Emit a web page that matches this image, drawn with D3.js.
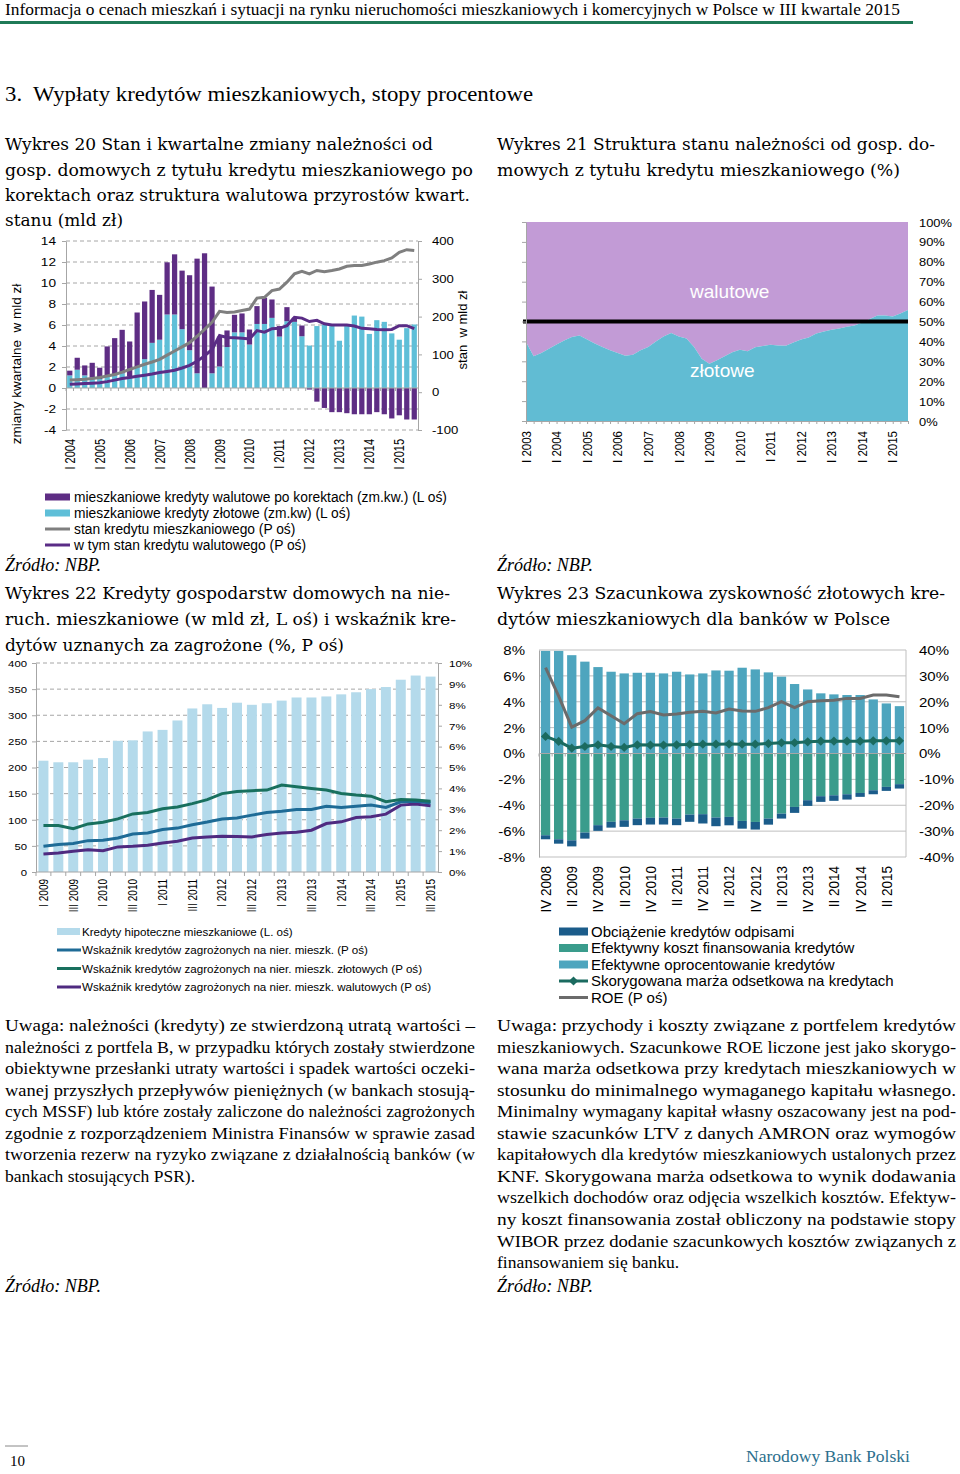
<!DOCTYPE html>
<html><head><meta charset="utf-8">
<script src="https://cdn.jsdelivr.net/npm/d3@7"></script>
<style>body{margin:0;background:#fff}svg{display:block}</style>
</head><body><svg id="c" width="960" height="1474"></svg>
<script>
// ---------------- DATA ----------------
// Wykres 20
const cat20 = ["I 2004","II 2004","III 2004","IV 2004","I 2005","II 2005","III 2005","IV 2005",
"I 2006","II 2006","III 2006","IV 2006","I 2007","II 2007","III 2007","IV 2007",
"I 2008","II 2008","III 2008","IV 2008","I 2009","II 2009","III 2009","IV 2009",
"I 2010","II 2010","III 2010","IV 2010","I 2011","II 2011","III 2011","IV 2011",
"I 2012","II 2012","III 2012","IV 2012","I 2013","II 2013","III 2013","IV 2013",
"I 2014","II 2014","III 2014","IV 2014","I 2015","II 2015","III 2015"];
const xTicks20 = ["I 2004","I 2005","I 2006","I 2007","I 2008","I 2009","I 2010","I 2011","I 2012","I 2013","I 2014","I 2015"];
const ticksL20 = [14,12,10,8,6,4,2,0,-2,-4];
const ticksR20 = [400,300,200,100,0,-100];
const zlote20 = [1.2,1.74,1.2,1.0, 0.85,1.1,1.2,1.4, 1.1,2.0,2.75,4.3, 4.6,7.0,7.0,5.6, 3.6,1.4,0.0,1.4,
 2.05,3.9,5.3,5.3, 4.14,6.1,6.1,6.68, 4.9,6.36,6.3,4.93, 4.04,5.9,6.05,5.9, 4.5,5.9,6.9,6.8, 5.15,6.46,6.3,5.2, 4.6,5.7,6.05];
const walutowe20 = [0.45,1.14,0.95,1.4, 1.08,2.86,3.55,4.14, 3.33,5.19,5.49,5.04, 4.27,4.97,5.73,5.58, 7.14,10.92,12.83,8.26,
 2.85,1.58,1.67,1.8, 1.43,1.7,2.5,1.75, 1.0,1.34,0.4,1.02, -0.15,-1.3,-1.9,-2.3, -2.3,-2.4,-2.5,-2.5, -2.5,-2.3,-2.5,-2.9, -2.6,-3.0,-3.0];
const stan20 = [32,33,34,36, 39,43,47,53, 60,67,74,80, 87,98,109,120, 131,148,166,185,
 214,211,212,216, 220,249,251,269, 273,291,313,320, 313,322,319,322, 326,333,335,335, 339,344,348,355, 370,377,375];
const stanWal20 = [21,22,23,24, 25,28,32,36, 39,42,45,48, 52,55,58,64, 71,82,96,113,
 150,145,144,143, 141,163,159,168, 169,176,198,196, 187,190,181,178, 178,178,175,169, 168,166,165,166, 176,176,168];

// Wykres 21
const cat21 = ["I 2003","II 2003","III 2003","IV 2003","I 2004","II 2004","III 2004","IV 2004",
"I 2005","II 2005","III 2005","IV 2005","I 2006","II 2006","III 2006","IV 2006",
"I 2007","II 2007","III 2007","IV 2007","I 2008","II 2008","III 2008","IV 2008",
"I 2009","II 2009","III 2009","IV 2009","I 2010","II 2010","III 2010","IV 2010",
"I 2011","II 2011","III 2011","IV 2011","I 2012","II 2012","III 2012","IV 2012",
"I 2013","II 2013","III 2013","IV 2013","I 2014","II 2014","III 2014","IV 2014",
"I 2015","II 2015","III 2015"];
const xTicks21 = ["I 2003","I 2004","I 2005","I 2006","I 2007","I 2008","I 2009","I 2010","I 2011","I 2012","I 2013","I 2014","I 2015"];
const ticks21 = [0,10,20,30,40,50,60,70,80,90,100];
const zlShare21 = [39.7,32.5,34.2,36.3,38.4,40.5,42.2,43.0,40.9,38.9,37.2,35.5,34.2,32.8,33.3,35.5,37.2,40.0,42.5,44.2,
 42.5,41.4,37.2,31.3,28.8,30.5,32.5,34.5,35.8,35.0,37.0,37.7,38.3,38.0,37.8,39.5,41.0,42.0,44.0,45.0,
 45.8,46.5,47.3,48.0,49.5,51.2,53.0,53.0,52.5,54.0,55.8];

// Wykres 22
const cat22 = ["I 2009","II 2009","III 2009","IV 2009","I 2010","II 2010","III 2010","IV 2010",
"I 2011","II 2011","III 2011","IV 2011","I 2012","II 2012","III 2012","IV 2012",
"I 2013","II 2013","III 2013","IV 2013","I 2014","II 2014","III 2014","IV 2014",
"I 2015","II 2015","III 2015"];
const xTicks22 = ["I 2009","III 2009","I 2010","III 2010","I 2011","III 2011","I 2012","III 2012","I 2013","III 2013","I 2014","III 2014","I 2015","III 2015"];
const ticksL22 = [0,50,100,150,200,250,300,350,400];
const ticksR22 = [0,1,2,3,4,5,6,7,8,9,10];
const kredyty22 = [213,210,210,215,218,251,252,269,272,290,313,321,314,324,320,323,328,334,334,336,340,344,350,354,368,376,374];
const wskOgol22 = [1.23,1.32,1.36,1.5,1.52,1.63,1.82,1.87,2.03,2.1,2.26,2.39,2.54,2.58,2.72,2.85,2.91,2.99,2.99,3.15,3.09,3.15,3.2,3.09,3.36,3.39,3.3];
const wskZl22 = [2.22,2.22,2.07,2.3,2.38,2.54,2.78,2.85,3.03,3.11,3.27,3.46,3.75,3.85,3.89,3.92,4.16,4.08,4.0,3.92,3.76,3.68,3.63,3.36,3.47,3.44,3.38];
const wskWal22 = [0.86,0.91,0.99,1.07,1.02,1.2,1.23,1.28,1.39,1.47,1.63,1.67,1.71,1.7,1.68,1.79,1.87,1.9,2.0,2.32,2.4,2.61,2.64,2.77,3.2,3.25,3.17];

// Wykres 23
const cat23 = ["IV 2008","I 2009","II 2009","III 2009","IV 2009","I 2010","II 2010","III 2010","IV 2010",
"I 2011","II 2011","III 2011","IV 2011","I 2012","II 2012","III 2012","IV 2012",
"I 2013","II 2013","III 2013","IV 2013","I 2014","II 2014","III 2014","IV 2014",
"I 2015","II 2015","III 2015"];
const xTicks23 = ["IV 2008","II 2009","IV 2009","II 2010","IV 2010","II 2011","IV 2011","II 2012","IV 2012","II 2013","IV 2013","II 2014","IV 2014","II 2015"];
const ticksL23 = [8,6,4,2,0,-2,-4,-6,-8];
const ticksR23 = [40,30,20,10,0,-10,-20,-30,-40];
const oprocent23 = [7.93,7.93,7.6,7.1,6.68,6.32,6.19,6.24,6.24,6.19,6.32,6.11,6.19,6.42,6.4,6.63,6.5,6.27,5.94,5.37,4.95,4.65,4.57,4.52,4.52,4.18,3.87,3.66];
const koszt23 = [-6.32,-6.63,-6.71,-6.11,-5.54,-5.28,-5.16,-5.03,-4.97,-4.95,-5.03,-4.72,-4.69,-4.95,-4.9,-5.21,-5.29,-5.03,-4.65,-4.13,-3.61,-3.3,-3.23,-3.15,-3.05,-2.84,-2.58,-2.37];
const odpisy23 = [-0.31,-0.34,-0.47,-0.47,-0.44,-0.45,-0.51,-0.51,-0.52,-0.54,-0.51,-0.56,-0.72,-0.67,-0.65,-0.6,-0.59,-0.47,-0.38,-0.46,-0.44,-0.44,-0.43,-0.41,-0.3,-0.31,-0.31,-0.34];
const marza23 = [1.32,0.93,0.41,0.54,0.67,0.54,0.47,0.67,0.65,0.65,0.67,0.7,0.72,0.72,0.73,0.72,0.72,0.77,0.83,0.83,0.9,0.95,0.95,0.95,0.95,0.98,0.98,0.98];
const roe23 = [33.2,22.2,10.2,12.7,17.6,14.6,11.5,15.4,16.2,14.9,15.3,15.9,16.3,15.7,17.2,16.4,16.3,17.7,20.0,17.7,20.0,20.4,20.6,21.3,21.3,22.6,22.6,21.9];

// ---------------- HELPERS ----------------
const SANS = "'Liberation Sans', Arial, sans-serif";
const SERIF = "'Liberation Serif', 'Times New Roman', serif";
const TSERIF = "'DejaVu Serif', serif";
const GRID = '#a6a6a6';
const svg = d3.select('#c');
svg.append('rect').attr('width',960).attr('height',1474).attr('fill','#fff');

function T(p, x, y, str, o = {}) {
  const t = p.append('text').text(str)
    .attr('font-family', o.ff || SANS).attr('font-size', o.fs || 12)
    .attr('fill', o.fill || '#000');
  if (o.anchor) t.attr('text-anchor', o.anchor);
  if (o.weight) t.attr('font-weight', o.weight);
  if (o.style) t.attr('font-style', o.style);
  let tr = `translate(${x},${y})`;
  if (o.sx) tr += ` scale(${o.sx},1)`;
  if (o.rot) tr += ` rotate(${o.rot})`;
  t.attr('transform', tr);
  if (o.dy) t.attr('dy', o.dy);
  if (o.len) t.attr('textLength', o.len).attr('lengthAdjust', 'spacingAndGlyphs');
  return t;
}
function styleAxis(sel, o) {
  sel.attr('font-family', SANS).attr('font-size', o.fs);
  if (o.noDomain) sel.select('.domain').remove();
  else sel.select('.domain').attr('stroke', GRID);
  sel.selectAll('.tick line').attr('stroke', GRID);
  sel.selectAll('.tick text').attr('fill', '#000').attr('x', null).attr('y', null)
    .attr('dy', '0.35em').attr('text-anchor', o.anchor).attr('transform', o.tf);
}
function hline(p, x1, x2, y, stroke, dash, w) {
  const l = p.append('line').attr('x1', x1).attr('x2', x2).attr('y1', y).attr('y2', y)
    .attr('stroke', stroke).attr('stroke-width', w || 1);
  if (dash) l.attr('stroke-dasharray', dash);
  return l;
}
function vline(p, x, y1, y2, stroke) {
  return p.append('line').attr('x1', x).attr('x2', x).attr('y1', y1).attr('y2', y2).attr('stroke', stroke);
}

// ---------------- PAGE TEXT ----------------
T(svg, 5, 15, "Informacja o cenach mieszkań i sytuacji na rynku nieruchomości mieszkaniowych i komercyjnych w Polsce w III kwartale 2015", {ff: SERIF, fs: 16, len: 895});
svg.append('rect').attr('x', 0).attr('y', 21).attr('width', 913).attr('height', 3).attr('fill', '#1f7a57');
T(svg, 5, 101, "3.\u00a0 Wypłaty kredytów mieszkaniowych, stopy procentowe", {ff: SERIF, fs: 21, len: 528});

const titles = [
  [5, 144, "Wykres 20 Stan i kwartalne zmiany należności od", 428],
  [5, 170, "gosp. domowych z tytułu kredytu mieszkaniowego po", 468],
  [5, 195, "korektach oraz struktura walutowa przyrostów kwart.", 465],
  [5, 220, "stanu (mld zł)", 118],
  [497, 144, "Wykres 21 Struktura stanu należności od gosp. do-", 438],
  [497, 170, "mowych z tytułu kredytu mieszkaniowego (%)", 403],
  [5, 593, "Wykres 22 Kredyty gospodarstw domowych na nie-", 445],
  [5, 619, "ruch. mieszkaniowe (w mld zł, L oś) i wskaźnik kre-", 451],
  [5, 645, "dytów uznanych za zagrożone (%, P oś)", 339],
  [497, 593, "Wykres 23 Szacunkowa zyskowność złotowych kre-", 448],
  [497, 619, "dytów mieszkaniowych dla banków w Polsce", 393]
];
titles.forEach(r => T(svg, r[0], r[1] + 6, r[2], {ff: TSERIF, fs: 17.2, len: r[3]}));

[[5, 565], [497, 565], [5, 1286], [497, 1286]].forEach(p =>
  T(svg, p[0], p[1] + 6, "Źródło: NBP.", {ff: SERIF, fs: 18, style: 'italic', len: 96}));

const paraL = [
  ["Uwaga: należności (kredyty) ze stwierdzoną utratą wartości –", true],
  ["należności z portfela B, w przypadku których zostały stwierdzone", true],
  ["obiektywne przesłanki utraty wartości i spadek wartości oczeki-", true],
  ["wanej przyszłych przepływów pieniężnych (w bankach stosują-", true],
  ["cych MSSF) lub które zostały zaliczone do należności zagrożonych", true],
  ["zgodnie z rozporządzeniem Ministra Finansów w sprawie zasad", true],
  ["tworzenia rezerw na ryzyko związane z działalnością banków (w", true],
  ["bankach stosujących PSR).", false]
];
const paraR = [
  ["Uwaga: przychody i koszty związane z portfelem kredytów", true],
  ["mieszkaniowych. Szacunkowe ROE liczone jest jako skorygo-", true],
  ["wana marża odsetkowa przy kredytach mieszkaniowych w", true],
  ["stosunku do minimalnego wymaganego kapitału własnego.", true],
  ["Minimalny wymagany kapitał własny oszacowany jest na pod-", true],
  ["stawie szacunków LTV z danych AMRON oraz wymogów", true],
  ["kapitałowych dla kredytów mieszkaniowych ustalonych przez", true],
  ["KNF. Skorygowana marża odsetkowa to wynik dodawania", true],
  ["wszelkich dochodów oraz odjęcia wszelkich kosztów. Efektyw-", true],
  ["ny koszt finansowania został obliczony na podstawie stopy", true],
  ["WIBOR przez dodanie szacunkowych kosztów związanych z", true],
  ["finansowaniem się banku.", false]
];
paraL.forEach((r, i) => T(svg, 5, 1031 + i * 21.55, r[0], {ff: SERIF, fs: 17.5, len: r[1] ? 470 : null}));
paraR.forEach((r, i) => T(svg, 497, 1031 + i * 21.55, r[0], {ff: SERIF, fs: 17.5, len: r[1] ? 459 : null}));

hline(svg, 5, 28, 1446, '#888');
T(svg, 10, 1466, "10", {ff: SERIF, fs: 15});
T(svg, 746, 1462, "Narodowy Bank Polski", {ff: SERIF, fs: 17, fill: '#2c6f8d', len: 164});

// ---------------- WYKRES 20 ----------------
(function () {
  const g = svg.append('g');
  const PUR = '#5e2d84', BLU = '#5fbfd8';
  const x = d3.scaleBand().domain(cat20).range([66, 418]).paddingInner(0.3).paddingOuter(0.15);
  const yL = d3.scaleLinear().domain([-4, 14]).range([430, 241]);
  const yR = d3.scaleLinear().domain([-100, 400]).range([430, 241]);
  ticksL20.forEach(v => { if (v !== 0) hline(g, 66, 418, yL(v), GRID, '4,3'); });
  g.selectAll(null).data(zlote20).join('rect')
    .attr('x', (d, i) => x(cat20[i])).attr('width', x.bandwidth())
    .attr('y', d => yL(Math.max(0, d))).attr('height', d => Math.abs(yL(d) - yL(0))).attr('fill', BLU);
  g.selectAll(null).data(walutowe20).join('rect')
    .attr('x', (d, i) => x(cat20[i])).attr('width', x.bandwidth())
    .attr('y', (d, i) => d >= 0 ? yL(zlote20[i] + d) : yL(0))
    .attr('height', (d, i) => d >= 0 ? yL(zlote20[i]) - yL(zlote20[i] + d) : yL(d) - yL(0))
    .attr('fill', PUR);
  hline(g, 66, 418, yL(0), GRID);
  cat20.forEach(c => { const xx = x(c) - (x.step() - x.bandwidth()) / 2; g.append('line').attr('x1', xx).attr('x2', xx).attr('y1', yL(0)).attr('y2', yL(0) + 3).attr('stroke', GRID); });
  const aL = g.append('g').attr('transform', 'translate(66,0)')
    .call(d3.axisLeft(yL).tickValues(ticksL20).tickSize(4).tickSizeOuter(0).tickFormat(d => String(d)));
  styleAxis(aL, {fs: 10.5, anchor: 'end', tf: 'translate(-10,0) scale(1.3,1)'});
  const aR = g.append('g').attr('transform', 'translate(418,0)')
    .call(d3.axisRight(yR).tickValues(ticksR20).tickSize(4).tickSizeOuter(0).tickFormat(d => String(d)));
  styleAxis(aR, {fs: 10.5, anchor: 'start', tf: 'translate(14,0) scale(1.25,1)'});
  const aX = g.append('g').attr('transform', 'translate(0,439)')
    .call(d3.axisBottom(x).tickValues(xTicks20).tickSize(0));
  styleAxis(aX, {fs: 11, anchor: 'end', noDomain: true, tf: 'scale(1.3,1) rotate(-90)'});
  const line = d3.line().x((d, i) => x(cat20[i]) + x.bandwidth() / 2).y(d => yR(d));
  g.append('path').datum(stan20).attr('d', line).attr('fill', 'none').attr('stroke', '#7f7f7f').attr('stroke-width', 3);
  g.append('path').datum(stanWal20).attr('d', line).attr('fill', 'none').attr('stroke', '#5a2c86').attr('stroke-width', 3);
  T(g, 21, 364, "zmiany kwartalne\u00a0 w mld zł", {fs: 13.5, anchor: 'middle', rot: -90});
  T(g, 467, 330, "stan\u00a0 w mld zł", {fs: 13, anchor: 'middle', rot: -90});
  const lg = svg.append('g').attr('font-family', SANS).attr('font-size', 13.8);
  const items = [["mieszkaniowe kredyty walutowe po korektach (zm.kw.) (L oś)", 'rect', PUR],
    ["mieszkaniowe kredyty złotowe (zm.kw) (L oś)", 'rect', BLU],
    ["stan kredytu mieszkaniowego (P oś)", 'line', '#7f7f7f'],
    ["w tym stan kredytu walutowego (P oś)", 'line', '#5a2c86']];
  items.forEach((it, i) => {
    const y = 497 + i * 16;
    if (it[1] === 'rect') lg.append('rect').attr('x', 45).attr('y', y - 3.5).attr('width', 25).attr('height', 7).attr('fill', it[2]);
    else hline(lg, 45, 70, y, it[2], null, 3);
    lg.append('text').attr('x', 74).attr('y', y).attr('dy', '0.35em').text(it[0]);
  });
})();

// ---------------- WYKRES 21 ----------------
(function () {
  const g = svg.append('g');
  const x = d3.scalePoint().domain(cat21).range([526, 908]);
  const y = d3.scaleLinear().domain([0, 100]).range([421, 222]);
  const aZ = d3.area().x((d, i) => x(cat21[i])).y0(y(0)).y1(d => y(d));
  const aF = d3.area().x((d, i) => x(cat21[i])).y0(d => y(d)).y1(y(100));
  g.append('path').datum(zlShare21).attr('d', aF).attr('fill', '#c29bd6');
  g.append('path').datum(zlShare21).attr('d', aZ).attr('fill', '#61bcd3');
  hline(g, 523, 908, y(50), '#000', null, 4);
  const aL = g.append('g').attr('transform', 'translate(526,0)')
    .call(d3.axisLeft(y).tickValues(ticks21).tickSize(4).tickSizeOuter(0).tickFormat(''));
  styleAxis(aL, {fs: 11});
  const aB = g.append('g').attr('transform', 'translate(0,421)')
    .call(d3.axisBottom(x).tickValues(cat21).tickSize(3).tickSizeOuter(0).tickFormat(''));
  styleAxis(aB, {fs: 11});
  const aR = g.append('g').attr('transform', 'translate(908,0)')
    .call(d3.axisRight(y).tickValues(ticks21).tickSize(0).tickFormat(d => d + '%'));
  styleAxis(aR, {fs: 11.5, anchor: 'start', noDomain: true, tf: 'translate(11,0) scale(1.12,1)'});
  const aX = g.append('g').attr('transform', 'translate(0,431)')
    .call(d3.axisBottom(x).tickValues(xTicks21).tickSize(0));
  styleAxis(aX, {fs: 11.5, anchor: 'end', noDomain: true, tf: 'scale(1.05,1) rotate(-90)'});
  T(g, 690, 292, "walutowe", {fs: 18, fill: '#fff', dy: '0.35em', sx: 1.06});
  T(g, 690, 371, "złotowe", {fs: 18, fill: '#fff', dy: '0.35em', sx: 1.06});
})();

// ---------------- WYKRES 22 ----------------
(function () {
  const g = svg.append('g');
  const x = d3.scaleBand().domain(cat22).range([36, 438]).paddingInner(0.33).paddingOuter(0.165);
  const yL = d3.scaleLinear().domain([0, 400]).range([872, 663]);
  const yR = d3.scaleLinear().domain([0, 10]).range([872, 663]);
  ticksL22.forEach(v => { if (v !== 0) hline(g, 36, 438, yL(v), GRID, '4,3'); });
  g.selectAll(null).data(kredyty22).join('rect')
    .attr('x', (d, i) => x(cat22[i])).attr('width', x.bandwidth())
    .attr('y', d => yL(d)).attr('height', d => yL(0) - yL(d)).attr('fill', '#b4daeb');
  hline(g, 36, 438, yL(0), GRID);
  cat22.forEach(c => { const xx = x(c) - (x.step() - x.bandwidth()) / 2; g.append('line').attr('x1', xx).attr('x2', xx).attr('y1', yL(0)).attr('y2', yL(0) + 4).attr('stroke', GRID); });
  const aL = g.append('g').attr('transform', 'translate(36,0)')
    .call(d3.axisLeft(yL).tickValues(ticksL22).tickSize(4).tickSizeOuter(0));
  styleAxis(aL, {fs: 9.6, anchor: 'end', tf: 'translate(-9,0) scale(1.18,1)'});
  const aR = g.append('g').attr('transform', 'translate(438,0)')
    .call(d3.axisRight(yR).tickValues(ticksR22).tickSize(4).tickSizeOuter(0).tickFormat(d => d + '%'));
  styleAxis(aR, {fs: 9.6, anchor: 'start', tf: 'translate(11,0) scale(1.2,1)'});
  const aX = g.append('g').attr('transform', 'translate(0,879)')
    .call(d3.axisBottom(x).tickValues(xTicks22).tickSize(0));
  styleAxis(aX, {fs: 10, anchor: 'end', noDomain: true, tf: 'scale(1.25,1) rotate(-90)'});
  const line = d3.line().x((d, i) => x(cat22[i]) + x.bandwidth() / 2).y(d => yR(d));
  g.append('path').datum(wskWal22).attr('d', line).attr('fill', 'none').attr('stroke', '#4f2a80').attr('stroke-width', 3);
  g.append('path').datum(wskOgol22).attr('d', line).attr('fill', 'none').attr('stroke', '#1e6b96').attr('stroke-width', 3);
  g.append('path').datum(wskZl22).attr('d', line).attr('fill', 'none').attr('stroke', '#18705e').attr('stroke-width', 3);
  const lg = svg.append('g').attr('font-family', SANS).attr('font-size', 11.6);
  const items = [["Kredyty hipoteczne mieszkaniowe (L. oś)", 'rect', '#b4daeb'],
    ["Wskaźnik kredytów zagrożonych na nier. mieszk. (P oś)", 'line', '#1e6b96'],
    ["Wskaźnik kredytów zagrożonych na nier. mieszk. złotowych (P oś)", 'line', '#18705e'],
    ["Wskaźnik kredytów zagrożonych na nier. mieszk. walutowych (P oś)", 'line', '#4f2a80']];
  items.forEach((it, i) => {
    const y = 931.5 + i * 18.5;
    if (it[1] === 'rect') lg.append('rect').attr('x', 57).attr('y', y - 3.5).attr('width', 23).attr('height', 7).attr('fill', it[2]);
    else hline(lg, 57, 81, y, it[2], null, 3);
    lg.append('text').attr('x', 82).attr('y', y).attr('dy', '0.35em').text(it[0]);
  });
})();

// ---------------- WYKRES 23 ----------------
(function () {
  const g = svg.append('g');
  const C_OPR = '#4ea5be', C_KOS = '#3a9c8c', C_ODP = '#1b5c8a', C_MAR = '#1b6b60', C_ROE = '#6b6b6b';
  const x = d3.scaleBand().domain(cat23).range([539, 906]).paddingInner(0.29).paddingOuter(0.145);
  const yL = d3.scaleLinear().domain([-8, 8]).range([857, 650]);
  const yR = d3.scaleLinear().domain([-40, 40]).range([857, 650]);
  ticksL23.forEach(v => hline(g, 539, 906, yL(v), '#bfbfbf'));
  vline(g, 906, 650, 857, '#bfbfbf');
  g.selectAll(null).data(oprocent23).join('rect')
    .attr('x', (d, i) => x(cat23[i])).attr('width', x.bandwidth())
    .attr('y', d => yL(d)).attr('height', d => yL(0) - yL(d)).attr('fill', C_OPR);
  g.selectAll(null).data(koszt23).join('rect')
    .attr('x', (d, i) => x(cat23[i])).attr('width', x.bandwidth())
    .attr('y', yL(0)).attr('height', d => yL(d) - yL(0)).attr('fill', C_KOS);
  g.selectAll(null).data(odpisy23).join('rect')
    .attr('x', (d, i) => x(cat23[i])).attr('width', x.bandwidth())
    .attr('y', (d, i) => yL(koszt23[i])).attr('height', (d, i) => yL(koszt23[i] + d) - yL(koszt23[i])).attr('fill', C_ODP);
  hline(g, 539, 906, yL(0), GRID);
  cat23.forEach(c => { const xx = x(c) - (x.step() - x.bandwidth()) / 2; g.append('line').attr('x1', xx).attr('x2', xx).attr('y1', yL(0)).attr('y2', yL(0) + 3).attr('stroke', GRID); });
  const aL = g.append('g').attr('transform', 'translate(539,0)')
    .call(d3.axisLeft(yL).tickValues(ticksL23).tickSize(0).tickSizeOuter(0).tickFormat(d => d + '%'));
  styleAxis(aL, {fs: 12.5, anchor: 'end', tf: 'translate(-14,0) scale(1.2,1)'});
  const aR = g.append('g').attr('transform', 'translate(906,0)')
    .call(d3.axisRight(yR).tickValues(ticksR23).tickSize(0).tickSizeOuter(0).tickFormat(d => d + '%'));
  styleAxis(aR, {fs: 12.5, anchor: 'start', noDomain: true, tf: 'translate(13,0) scale(1.2,1)'});
  const aX = g.append('g').attr('transform', 'translate(0,866)')
    .call(d3.axisBottom(x).tickValues(xTicks23).tickSize(0));
  styleAxis(aX, {fs: 13.5, anchor: 'end', noDomain: true, tf: 'scale(1.15,1) rotate(-90)'});
  const cx = (d, i) => x(cat23[i]) + x.bandwidth() / 2;
  g.append('path').datum(roe23).attr('d', d3.line().x(cx).y(d => yR(d))).attr('fill', 'none').attr('stroke', C_ROE).attr('stroke-width', 3);
  g.append('path').datum(marza23).attr('d', d3.line().x(cx).y(d => yL(d))).attr('fill', 'none').attr('stroke', C_MAR).attr('stroke-width', 3);
  const dia = 'M0,-4.6L4.6,0L0,4.6L-4.6,0Z';
  g.selectAll(null).data(marza23).join('path').attr('d', dia)
    .attr('transform', (d, i) => `translate(${cx(d, i)},${yL(d)})`).attr('fill', C_MAR);
  const lg = svg.append('g').attr('font-family', SANS).attr('font-size', 15);
  const items = [["Obciążenie kredytów odpisami", 'rect', C_ODP],
    ["Efektywny koszt finansowania kredytów", 'rect', C_KOS],
    ["Efektywne oprocentowanie kredytów", 'rect', C_OPR],
    ["Skorygowana marża odsetkowa na kredytach", 'dia', C_MAR],
    ["ROE (P oś)", 'line', C_ROE]];
  items.forEach((it, i) => {
    const y = 931.5 + i * 16.5;
    if (it[1] === 'rect') lg.append('rect').attr('x', 559).attr('y', y - 4).attr('width', 29).attr('height', 8).attr('fill', it[2]);
    else {
      hline(lg, 559, 588, y, it[2], null, 3);
      if (it[1] === 'dia') lg.append('path').attr('d', dia).attr('transform', `translate(573.5,${y})`).attr('fill', it[2]);
    }
    lg.append('text').attr('x', 591).attr('y', y).attr('dy', '0.35em').text(it[0]);
  });
})();
</script></body></html>
